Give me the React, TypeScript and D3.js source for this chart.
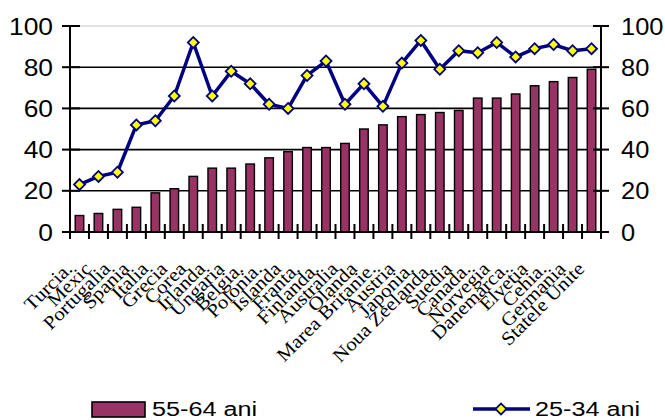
import { useEffect, useRef } from 'react';
import * as d3 from 'd3';

const countries = [
  'Turcia.', 'Mexic', 'Portugalia', 'Spania', 'Italia', 'Grecia', 'Corea',
  'Irlanda', 'Ungaria', 'Belgia.', 'Polonia.', 'Islanda', 'Franta.', 'Finlanda.',
  'Australia', 'Olanda', 'Marea Britanie.', 'Austria', 'Japonia.', 'Noua Zeelanda.',
  'Suedia', 'Canada.', 'Norvegia', 'Danemarca.', 'Elvetia', 'Cehia.', 'Germania',
  'Statele Unite',
];

// 55-64 ani (bars)
const older = [
  8, 9, 11, 12, 19, 21, 27, 31, 31, 33, 36, 39, 41, 41,
  43, 50, 52, 56, 57, 58, 59, 65, 65, 67, 71, 73, 75, 79,
];

// 25-34 ani (line)
const younger = [
  23, 27, 29, 52, 54, 66, 92, 66, 78, 72, 62, 60, 76, 83,
  62, 72, 61, 82, 93, 79, 88, 87, 92, 85, 89, 91, 88, 89,
];

const yTicks = [0, 20, 40, 60, 80, 100];

const W = 665;
const H = 420;

export default function App() {
  const svgRef = useRef<SVGSVGElement>(null);

  useEffect(() => {
    if (!svgRef.current) return;
    const svg = d3.select(svgRef.current);
    svg.selectAll('*').remove();

    const left = 70;
    const right = 601;
    const top = 26;
    const bottom = 232;

    const x = d3.scaleBand<string>().domain(countries).range([left, right]).padding(0);
    const y = d3.scaleLinear().domain([0, 100]).range([bottom, top]);
    const cx = (c: string) => (x(c) ?? 0) + x.bandwidth() / 2;
    const barW = x.bandwidth() * 0.45;

    // Gridlines
    svg.append('g')
      .selectAll('line')
      .data(yTicks.filter(t => t > 0))
      .join('line')
      .attr('x1', left)
      .attr('x2', right)
      .attr('y1', d => y(d))
      .attr('y2', d => y(d))
      .attr('stroke', d => (d === 100 ? '#c8c8c8' : '#000'))
      .attr('stroke-width', d => (d === 100 ? 1 : 1.6));

    // Bars
    svg.append('g')
      .selectAll('rect')
      .data(older)
      .join('rect')
      .attr('x', (_, i) => cx(countries[i]) - barW / 2)
      .attr('y', d => y(d))
      .attr('width', barW)
      .attr('height', d => bottom - y(d))
      .attr('fill', '#993366')
      .attr('stroke', '#000')
      .attr('stroke-width', 1.4);

    // Axes lines
    const axisG = svg.append('g').attr('stroke', '#000').attr('stroke-width', 2);
    axisG.append('line').attr('x1', left).attr('x2', left).attr('y1', top).attr('y2', bottom);
    axisG.append('line').attr('x1', right).attr('x2', right).attr('y1', top).attr('y2', bottom);
    axisG.append('line').attr('x1', left - 8).attr('x2', right + 8).attr('y1', bottom).attr('y2', bottom);

    // Y ticks (crossing both axes)
    axisG.selectAll('.yl')
      .data(yTicks)
      .join('line')
      .attr('class', 'yl')
      .attr('x1', left - 8)
      .attr('x2', left + 10)
      .attr('y1', d => y(d))
      .attr('y2', d => y(d));
    axisG.selectAll('.yr')
      .data(yTicks)
      .join('line')
      .attr('class', 'yr')
      .attr('x1', right - 8)
      .attr('x2', right + 8)
      .attr('y1', d => y(d))
      .attr('y2', d => y(d));

    // X ticks at category boundaries
    const bounds = countries.map(c => x(c) ?? 0).concat([right]);
    axisG.selectAll('.xt')
      .data(bounds)
      .join('line')
      .attr('class', 'xt')
      .attr('x1', d => d)
      .attr('x2', d => d)
      .attr('y1', bottom - 8)
      .attr('y2', bottom + 7);

    // Y labels
    const lab = svg.append('g')
      .style('font-family', 'Arial, "Liberation Sans", sans-serif')
      .style('font-size', '24px')
      .attr('fill', '#000');
    lab.selectAll('.ll')
      .data(yTicks)
      .join('text')
      .attr('class', 'll')
      .attr('text-anchor', 'end')
      .attr('transform', d => `translate(${left - 17},${y(d) + 8.5}) scale(1.1,1)`)
      .text(d => d);
    lab.selectAll('.rl')
      .data(yTicks)
      .join('text')
      .attr('class', 'rl')
      .attr('text-anchor', 'start')
      .attr('transform', d => `translate(${right + 20},${y(d) + 8.5}) scale(1.06,1)`)
      .text(d => d);

    // X labels
    svg.append('g')
      .style('font-family', '"Liberation Serif", "Times New Roman", serif')
      .style('font-size', '19px')
      .selectAll('text')
      .data(countries)
      .join('text')
      .attr('text-anchor', 'end')
      .attr('transform', c => `translate(${cx(c) - 6},${270}) rotate(-45) scale(1.1,1)`)
      .text(c => c);

    // Line
    const line = d3.line<number>()
      .x((_, i) => cx(countries[i]))
      .y(d => y(d));
    svg.append('path')
      .datum(younger)
      .attr('fill', 'none')
      .attr('stroke', '#000080')
      .attr('stroke-width', 3.5)
      .attr('stroke-linejoin', 'round')
      .attr('d', line);

    const diamond = d3.symbol().type(d3.symbolSquare).size(60);
    svg.append('g')
      .selectAll('path')
      .data(younger)
      .join('path')
      .attr('d', diamond)
      .attr('transform', (d, i) => `translate(${cx(countries[i])},${y(d)}) rotate(45)`)
      .attr('fill', '#ffff00')
      .attr('stroke', '#000080')
      .attr('stroke-width', 1.8);

    // Legend
    const leg = svg.append('g')
      .style('font-family', 'Arial, "Liberation Sans", sans-serif')
      .style('font-size', '21px');
    leg.append('rect')
      .attr('x', 92).attr('y', 402).attr('width', 53).attr('height', 15)
      .attr('fill', '#993366').attr('stroke', '#000').attr('stroke-width', 1.6);
    leg.append('text').attr('transform', 'translate(152,416) scale(1.2,1)').text('55-64 ani');

    leg.append('line')
      .attr('x1', 473).attr('x2', 530).attr('y1', 409).attr('y2', 409)
      .attr('stroke', '#000080').attr('stroke-width', 3.5);
    leg.append('path')
      .attr('d', diamond)
      .attr('transform', 'translate(501,409) rotate(45)')
      .attr('fill', '#ffff00').attr('stroke', '#000080').attr('stroke-width', 1.8);
    leg.append('text').attr('transform', 'translate(535,416) scale(1.2,1)').text('25-34 ani');
  }, []);

  return (
    <svg
      ref={svgRef}
      width={W}
      height={H}
      viewBox={`0 0 ${W} ${H}`}
      style={{ position: 'absolute', left: 0, top: 0, background: '#fff' }}
    />
  );
}
